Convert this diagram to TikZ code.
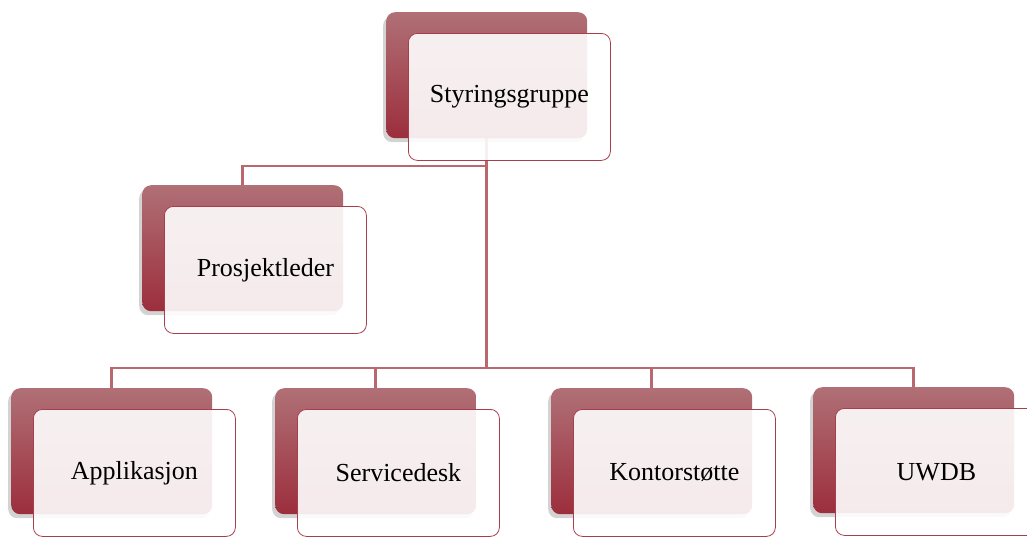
\documentclass[tikz,border=0pt]{standalone}
\usepackage{fontspec}
\setmainfont{Liberation Serif}
\usetikzlibrary{shadows,backgrounds}
\definecolor{linkred}{RGB}{186,104,112}
\definecolor{backtop}{RGB}{176,112,118}
\definecolor{backbot}{RGB}{156,46,60}
\definecolor{framered}{RGB}{168,62,76}
\begin{document}
\begin{tikzpicture}[x=1pt,y=-1pt]
\useasboundingbox (0,0) rectangle (1027,536);
\tikzset{BackStyle/.style ={rectangle, rounded corners=9pt, minimum width=201pt, minimum height=126pt, inner sep=0pt, anchor=north west, top color=backtop, bottom color=backbot, drop shadow={shadow xshift=-3pt, shadow yshift=-4pt, opacity=0.35}}}
\tikzset{FrontStyle/.style ={rectangle, rounded corners=9pt, minimum width=202pt, minimum height=127pt, inner sep=0pt, anchor=north west, draw=framered, line width=0.8pt, fill=white, fill opacity=0.9, text opacity=1, font=\fontsize{26}{30}\selectfont}}
\tikzset{LinkStyle/.style ={draw=linkred, line width=2.5pt}}
\node[BackStyle] (styrback) at (386,12) {};
\node[FrontStyle] (styr) at ([shift={(22,21)}]styrback.north west) {Styringsgruppe};
\node[BackStyle] (prosback) at (142,185) {};
\node[FrontStyle] (pros) at ([shift={(22,21)}]prosback.north west) {Prosjektleder};
\node[BackStyle] (appback) at (11,388) {};
\node[FrontStyle] (app) at ([shift={(22,21)}]appback.north west) {Applikasjon};
\node[BackStyle] (servback) at (275,388) {};
\node[FrontStyle] (serv) at ([shift={(22,21)}]servback.north west) {Servicedesk};
\node[BackStyle] (kontback) at (551,388) {};
\node[FrontStyle] (kont) at ([shift={(22,21)}]kontback.north west) {Kontorstøtte};
\node[BackStyle] (uwdbback) at (813,387) {};
\node[FrontStyle] (uwdb) at ([shift={(22,21)}]uwdbback.north west) {UWDB};
\begin{scope}[on background layer]
\coordinate (hub) at (styrback.center |- 0,368);
\draw[LinkStyle] (styrback.center) -- (hub);
\draw[LinkStyle] (prosback.north) |- (styrback.center |- 0,166);
\draw[LinkStyle] (appback.north) |- (hub);
\draw[LinkStyle] (servback.north) |- (hub);
\draw[LinkStyle] (kontback.north) |- (hub);
\draw[LinkStyle] (uwdbback.north) |- (hub);
\end{scope}
\end{tikzpicture}
\end{document}
